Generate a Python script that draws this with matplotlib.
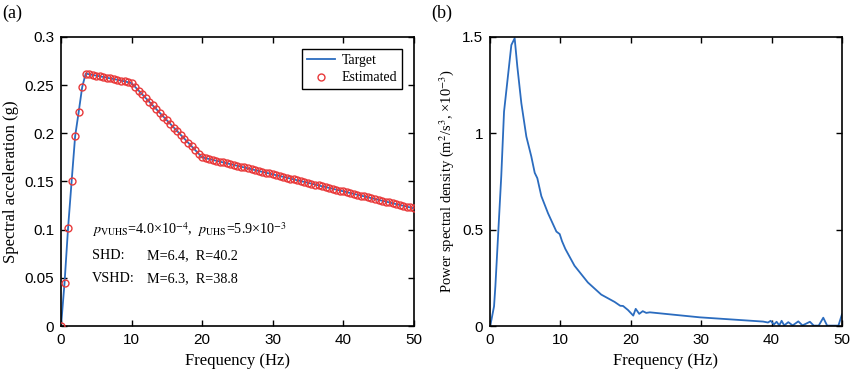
import numpy as np
import matplotlib
matplotlib.use("Agg")
import matplotlib.pyplot as plt

plt.rcParams['mathtext.fontset'] = 'stix'

# (a) response spectrum, target and estimated (same grid, 0.5 Hz step)
freq_a = np.arange(0, 50.5, 0.5)
sa_target = [
    0.0, 0.045, 0.102, 0.150, 0.197, 0.222, 0.248, 0.262,
    0.2612, 0.2605, 0.2598, 0.2591, 0.2584, 0.2577, 0.2569, 0.2562, 0.2555, 0.2547, 0.2539, 0.2530, 0.2520,
    0.2482, 0.2443, 0.2405, 0.2366, 0.2328, 0.2289, 0.2251, 0.2212, 0.2174, 0.2135,
    0.2097, 0.2058, 0.2020, 0.1981, 0.1943, 0.1904, 0.1866, 0.1827, 0.1789, 0.1750,
    0.1741, 0.1733, 0.1724, 0.1715, 0.1706, 0.1697, 0.1689, 0.1680, 0.1671, 0.1662,
    0.1653, 0.1645, 0.1636, 0.1627, 0.1618, 0.1609, 0.1600, 0.1592, 0.1583, 0.1574,
    0.1565, 0.1556, 0.1548, 0.1539, 0.1530, 0.1521, 0.1512, 0.1503, 0.1495, 0.1486,
    0.1477, 0.1468, 0.1459, 0.1450, 0.1442, 0.1433, 0.1424, 0.1415, 0.1406, 0.1398,
    0.1389, 0.1380, 0.1371, 0.1362, 0.1353, 0.1345, 0.1336, 0.1327, 0.1318, 0.1309,
    0.1300, 0.1292, 0.1283, 0.1274, 0.1265, 0.1256, 0.1248, 0.1239, 0.1230, 0.1221,
]
sa_estimated = list(sa_target)

# (b) power spectral density (x1e-3)
freq_b = [0, 0.19, 0.57, 0.76, 1.14, 1.6, 1.99, 3.03, 3.5, 3.88, 4.45, 5.16, 5.87, 6.35,
          6.72, 7.29, 8.24, 9.43, 9.9, 10.23, 10.7, 12.0, 13.9, 15.8, 17.7, 18.5, 18.9,
          19.6, 20.35, 20.7, 21.2, 21.7, 22.2, 22.7, 29.8, 38.8, 39.5, 39.87, 40.34,
          40.72, 41.1, 41.43, 41.8, 42.38, 43.0, 43.8, 44.4, 45.45, 46.0, 46.7, 47.35,
          47.9, 49.5, 50.0]
psd = [0.0, 0.03, 0.102, 0.206, 0.466, 0.78, 1.112, 1.458, 1.493, 1.346, 1.156, 0.983,
       0.879, 0.795, 0.767, 0.674, 0.585, 0.49, 0.477, 0.44, 0.40, 0.313, 0.226, 0.163,
       0.125, 0.105, 0.104, 0.083, 0.054, 0.089, 0.063, 0.077, 0.068, 0.071, 0.045,
       0.023, 0.018, 0.027, 0.008, 0.022, 0.003, 0.027, 0.003, 0.020, 0.003, 0.024,
       0.003, 0.022, 0.002, 0.002, 0.043, 0.002, 0.002, 0.06]

blue = '#2b6cbf'
red = '#e8393a'
serif = ['Liberation Serif', 'DejaVu Serif']
sans = ['Liberation Sans', 'DejaVu Sans']

fig = plt.figure(figsize=(8.5, 3.73), dpi=100)
ax1 = fig.add_axes([0.0718, 0.126, 0.415, 0.775])
ax2 = fig.add_axes([0.5765, 0.126, 0.414, 0.775])

ax1.plot(freq_a, sa_target, color=blue, lw=1.3, label='Target', zorder=2)
ax1.plot(freq_a, sa_estimated, ls='none', marker='o', ms=5, mfc='none',
         mec=red, mew=1.0, label='Estimated', zorder=3)
ax1.set_xlim(0, 50)
ax1.set_ylim(0, 0.3)
ax1.set_xticks([0, 10, 20, 30, 40, 50])
ax1.set_yticks([0, 0.05, 0.1, 0.15, 0.2, 0.25, 0.3])
ax1.set_yticklabels(['0', '0.05', '0.1', '0.15', '0.2', '0.25', '0.3'])
ax1.set_xlabel('Frequency (Hz)', family=serif, fontsize=12)
ax1.set_ylabel('Spectral acceleration (g)', family=serif, fontsize=12)
leg = ax1.legend(loc='upper right', prop={'family': serif, 'size': 10},
                 fancybox=False, edgecolor='black', framealpha=1,
                 handlelength=2.0, handletextpad=0.5, borderpad=0.35,
                 labelspacing=0.35, borderaxespad=0.85)
leg.get_frame().set_linewidth(1.0)

txt = dict(family=serif, fontsize=10.2, va='center')
ax1.text(4.4, 0.0997, r'$p_{\rm VUHS}$=4.0×10$^{-4}$,  $p_{\rm UHS}$=5.9×10$^{-3}$', **txt)
ax1.text(4.4, 0.0727, 'SHD:', **txt)
ax1.text(12.2, 0.0727, 'M=6.4,  R=40.2', **txt)
ax1.text(4.4, 0.0488, 'VSHD:', **txt)
ax1.text(12.2, 0.0488, 'M=6.3,  R=38.8', **txt)

ax2.plot(freq_b, psd, color=blue, lw=1.3)
ax2.set_xlim(0, 50)
ax2.set_ylim(0, 1.5)
ax2.set_xticks([0, 10, 20, 30, 40, 50])
ax2.set_yticks([0, 0.5, 1, 1.5])
ax2.set_yticklabels(['0', '0.5', '1', '1.5'])
ax2.set_xlabel('Frequency (Hz)', family=serif, fontsize=12)
ax2.set_ylabel(r'Power spectral density (m$^2$/s$^3$, ×10$^{-3}$)', family=serif, fontsize=10.5)

for ax in (ax1, ax2):
    ax.tick_params(direction='in', top=True, right=True, length=4, width=1,
                   labelsize=11, pad=5)
    for lab in ax.get_xticklabels() + ax.get_yticklabels():
        lab.set_family(sans)
    for sp in ax.spines.values():
        sp.set_linewidth(1.2)

fig.text(0.003, 0.965, '(a)', family=serif, fontsize=13, va='center')
fig.text(0.507, 0.965, '(b)', family=serif, fontsize=13, va='center')

fig.savefig('out.png', dpi=100)
